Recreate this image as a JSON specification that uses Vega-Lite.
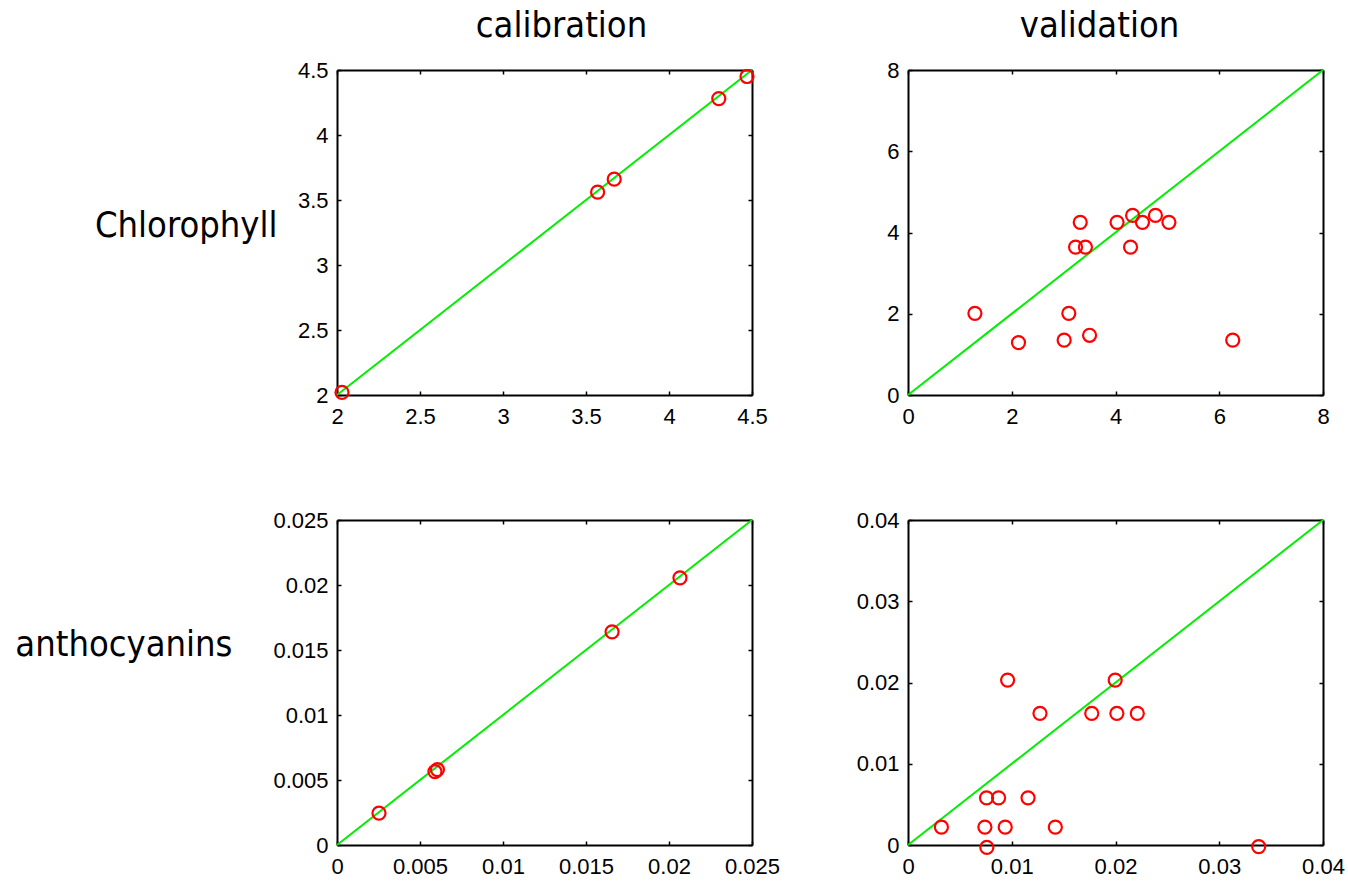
{
  "$schema": "https://vega.github.io/schema/vega-lite/v6.json",
  "background": "white",
  "padding": {"left": 14, "top": 8, "right": 10, "bottom": 10},
  "bounds": "flush",
  "columns": 2,
  "spacing": {"row": 125, "column": 156},
  "datasets": {
    "cal_chl": [
      {"measured": 2.03, "predicted": 2.02},
      {"measured": 3.57, "predicted": 3.56},
      {"measured": 3.67, "predicted": 3.66},
      {"measured": 4.30, "predicted": 4.28},
      {"measured": 4.47, "predicted": 4.45}
    ],
    "val_chl": [
      {"measured": 3.32, "predicted": 4.25},
      {"measured": 4.03, "predicted": 4.25},
      {"measured": 4.33, "predicted": 4.42},
      {"measured": 4.52, "predicted": 4.25},
      {"measured": 4.77, "predicted": 4.42},
      {"measured": 5.03, "predicted": 4.25},
      {"measured": 3.23, "predicted": 3.64},
      {"measured": 3.42, "predicted": 3.64},
      {"measured": 4.29, "predicted": 3.64},
      {"measured": 3.10, "predicted": 2.01},
      {"measured": 1.29, "predicted": 2.01},
      {"measured": 2.13, "predicted": 1.29},
      {"measured": 3.01, "predicted": 1.35},
      {"measured": 3.50, "predicted": 1.47},
      {"measured": 6.26, "predicted": 1.35}
    ],
    "cal_ant": [
      {"measured": 0.00253, "predicted": 0.00245},
      {"measured": 0.0059, "predicted": 0.00565},
      {"measured": 0.00605, "predicted": 0.0058},
      {"measured": 0.01657, "predicted": 0.0164},
      {"measured": 0.02066, "predicted": 0.02055}
    ],
    "val_ant": [
      {"measured": 0.0096, "predicted": 0.0203},
      {"measured": 0.01997, "predicted": 0.0203},
      {"measured": 0.01272, "predicted": 0.0162},
      {"measured": 0.01771, "predicted": 0.0162},
      {"measured": 0.02013, "predicted": 0.0162},
      {"measured": 0.0221, "predicted": 0.0162},
      {"measured": 0.00757, "predicted": 0.0058},
      {"measured": 0.00873, "predicted": 0.0058},
      {"measured": 0.01157, "predicted": 0.0058},
      {"measured": 0.00322, "predicted": 0.0022},
      {"measured": 0.00741, "predicted": 0.0022},
      {"measured": 0.00937, "predicted": 0.0022},
      {"measured": 0.0142, "predicted": 0.0022},
      {"measured": 0.0076, "predicted": -0.0003},
      {"measured": 0.0338, "predicted": -0.0002}
    ],
    "line_cal_chl": [{"measured": 2, "predicted": 2}, {"measured": 4.5, "predicted": 4.5}],
    "line_val_chl": [{"measured": 0, "predicted": 0}, {"measured": 8, "predicted": 8}],
    "line_cal_ant": [{"measured": 0, "predicted": 0}, {"measured": 0.025, "predicted": 0.025}],
    "line_val_ant": [{"measured": 0, "predicted": 0}, {"measured": 0.04, "predicted": 0.04}]
  },
  "concat": [
    {
      "width": 415, "height": 325,
      "title": {"text": "calibration", "frame": "group", "anchor": "middle", "baseline": "alphabetic", "offset": -14, "dx": 17},
      "resolve": {"axis": {"x": "independent", "y": "independent"}},
      "layer": [
        {
          "data": {"name": "line_cal_chl"},
          "mark": {"type": "line", "color": "#00ee00", "strokeWidth": 2, "clip": false},
          "encoding": {
            "x": {"field": "measured", "type": "quantitative", "scale": {"domain": [2, 4.5], "nice": false, "zero": false},
                  "axis": {"orient": "bottom", "values": [2, 2.5, 3, 3.5, 4, 4.5], "title": null}},
            "y": {"field": "predicted", "type": "quantitative", "scale": {"domain": [2, 4.5], "nice": false, "zero": false},
                  "axis": {"orient": "left", "values": [2, 2.5, 3, 3.5, 4, 4.5], "title": "Chlorophyll", "titleX": -60, "titleY": 166}}
          }
        },
        {
          "data": {"name": "cal_chl"},
          "mark": {"type": "point", "shape": "circle", "filled": false, "color": "#ff0000", "opacity": 1, "strokeWidth": 2.2, "size": 170, "clip": false},
          "encoding": {
            "x": {"field": "measured", "type": "quantitative", "axis": {"orient": "top", "labels": false, "values": [2, 2.5, 3, 3.5, 4, 4.5], "title": null}},
            "y": {"field": "predicted", "type": "quantitative", "axis": {"orient": "right", "labels": false, "values": [2, 2.5, 3, 3.5, 4, 4.5], "title": null}}
          }
        }
      ]
    },
    {
      "width": 415, "height": 325,
      "title": {"text": "validation", "frame": "group", "anchor": "middle", "baseline": "alphabetic", "offset": -14, "dx": -16},
      "resolve": {"axis": {"x": "independent", "y": "independent"}},
      "layer": [
        {
          "data": {"name": "line_val_chl"},
          "mark": {"type": "line", "color": "#00ee00", "strokeWidth": 2, "clip": false},
          "encoding": {
            "x": {"field": "measured", "type": "quantitative", "scale": {"domain": [0, 8], "nice": false},
                  "axis": {"orient": "bottom", "values": [0, 2, 4, 6, 8], "title": null}},
            "y": {"field": "predicted", "type": "quantitative", "scale": {"domain": [0, 8], "nice": false},
                  "axis": {"orient": "left", "values": [0, 2, 4, 6, 8], "title": null}}
          }
        },
        {
          "data": {"name": "val_chl"},
          "mark": {"type": "point", "shape": "circle", "filled": false, "color": "#ff0000", "opacity": 1, "strokeWidth": 2.2, "size": 170, "clip": false},
          "encoding": {
            "x": {"field": "measured", "type": "quantitative", "axis": {"orient": "top", "labels": false, "values": [0, 2, 4, 6, 8], "title": null}},
            "y": {"field": "predicted", "type": "quantitative", "axis": {"orient": "right", "labels": false, "values": [0, 2, 4, 6, 8], "title": null}}
          }
        }
      ]
    },
    {
      "width": 415, "height": 325,
      "resolve": {"axis": {"x": "independent", "y": "independent"}},
      "layer": [
        {
          "data": {"name": "line_cal_ant"},
          "mark": {"type": "line", "color": "#00ee00", "strokeWidth": 2, "clip": false},
          "encoding": {
            "x": {"field": "measured", "type": "quantitative", "scale": {"domain": [0, 0.025], "nice": false},
                  "axis": {"orient": "bottom", "values": [0, 0.005, 0.01, 0.015, 0.02, 0.025], "title": null}},
            "y": {"field": "predicted", "type": "quantitative", "scale": {"domain": [0, 0.025], "nice": false},
                  "axis": {"orient": "left", "values": [0, 0.005, 0.01, 0.015, 0.02, 0.025], "title": "anthocyanins", "titleX": -105, "titleY": 135}}
          }
        },
        {
          "data": {"name": "cal_ant"},
          "mark": {"type": "point", "shape": "circle", "filled": false, "color": "#ff0000", "opacity": 1, "strokeWidth": 2.2, "size": 170, "clip": false},
          "encoding": {
            "x": {"field": "measured", "type": "quantitative", "axis": {"orient": "top", "labels": false, "values": [0, 0.005, 0.01, 0.015, 0.02, 0.025], "title": null}},
            "y": {"field": "predicted", "type": "quantitative", "axis": {"orient": "right", "labels": false, "values": [0, 0.005, 0.01, 0.015, 0.02, 0.025], "title": null}}
          }
        }
      ]
    },
    {
      "width": 415, "height": 325,
      "resolve": {"axis": {"x": "independent", "y": "independent"}},
      "layer": [
        {
          "data": {"name": "line_val_ant"},
          "mark": {"type": "line", "color": "#00ee00", "strokeWidth": 2, "clip": false},
          "encoding": {
            "x": {"field": "measured", "type": "quantitative", "scale": {"domain": [0, 0.04], "nice": false},
                  "axis": {"orient": "bottom", "values": [0, 0.01, 0.02, 0.03, 0.04], "title": null}},
            "y": {"field": "predicted", "type": "quantitative", "scale": {"domain": [0, 0.04], "nice": false},
                  "axis": {"orient": "left", "values": [0, 0.01, 0.02, 0.03, 0.04], "title": null}}
          }
        },
        {
          "data": {"name": "val_ant"},
          "mark": {"type": "point", "shape": "circle", "filled": false, "color": "#ff0000", "opacity": 1, "strokeWidth": 2.2, "size": 170, "clip": false},
          "encoding": {
            "x": {"field": "measured", "type": "quantitative", "axis": {"orient": "top", "labels": false, "values": [0, 0.01, 0.02, 0.03, 0.04], "title": null}},
            "y": {"field": "predicted", "type": "quantitative", "axis": {"orient": "right", "labels": false, "values": [0, 0.01, 0.02, 0.03, 0.04], "title": null}}
          }
        }
      ]
    }
  ],
  "config": {
    "view": {"stroke": null},
    "title": {"font": "DejaVu Sans Condensed", "fontSize": 36, "fontWeight": "normal", "color": "black"},
    "axis": {
      "grid": false,
      "domainColor": "black",
      "domainWidth": 2,
      "tickColor": "black",
      "tickWidth": 1.5,
      "tickSize": -4,
      "labelFont": "Liberation Sans",
      "labelFontSize": 22,
      "labelColor": "black",
      "labelFlush": false,
      "labelOverlap": false,
      "labelBound": false,
      "labelExpr": "'' + datum.value",
      "titleFont": "DejaVu Sans Condensed",
      "titleFontSize": 36,
      "titleFontWeight": "normal",
      "titleColor": "black",
      "titleAngle": 0,
      "titleAlign": "right",
      "titleBaseline": "alphabetic"
    },
    "axisBottom": {"labelPadding": 15},
    "axisLeft": {"labelPadding": 13}
  }
}
